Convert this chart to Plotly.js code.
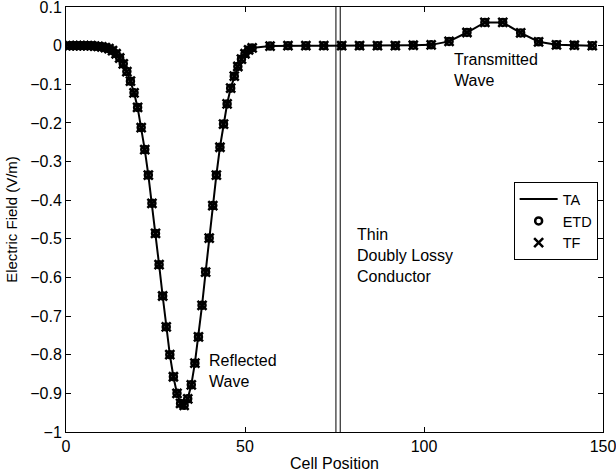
<!DOCTYPE html>
<html>
<head>
<meta charset="utf-8">
<script src="https://cdn.plot.ly/plotly-3.0.1.min.js"></script>
<style>html,body{margin:0;padding:0;background:#fff}#chart{width:616px;height:474px}</style>
</head>
<body>
<div id="chart"></div>
<script>
// Cell positions of the sampled field values
const cells = [1,2,3,4,5,6,7,8,9,10,11,12,13,14,15,16,17,18,19,20,21,22,23,24,25,26,27,28,29,30,
  31,32,33,34,35,36,37,38,39,40,41,42,43,44,45,46,47,48,49,50,51,52,
  57,62,67,72,77,82,87,92,97,102,107,112,117,122,127,132,137,142,147];
// Electric field (V/m) (TA, ETD and TF coincide)
const field = [0,0,0,0,0,0,0,-0.001,-0.002,-0.003,-0.005,-0.008,-0.013,-0.021,-0.032,-0.047,-0.067,-0.092,-0.122,-0.160,
  -0.212,-0.269,-0.335,-0.408,-0.486,-0.567,-0.648,-0.728,-0.800,-0.857,
  -0.900,-0.926,-0.931,-0.914,-0.878,-0.822,-0.754,-0.672,-0.586,-0.498,-0.414,-0.335,-0.263,-0.203,-0.151,-0.110,-0.079,-0.054,-0.035,-0.021,-0.011,-0.006,
  -0.001,0,0,0,0,0,0,0,0.001,0.002,0.011,0.034,0.060,0.060,0.033,0.010,0.002,0.001,0];
const taField = field;
const etdField = field;
const tfField = field;
// Thin conductor boundaries (cell position)
const conductorEdges = [75.4, 76.6];
const yTicks = [0.1,0,-0.1,-0.2,-0.3,-0.4,-0.5,-0.6,-0.7,-0.8,-0.9,-1];
const yTickText = ['0.1','0','\u22120.1','\u22120.2','\u22120.3','\u22120.4','\u22120.5','\u22120.6','\u22120.7','\u22120.8','\u22120.9','\u22121'];
const xTicks = [0,50,100,150];

const fam = 'Liberation Sans, Arial, sans-serif';
const font = {family: fam, size: 16, color: '#000'};
const yTitleFont = {family: fam, size: 15, color: '#000'};
const legendFont = {family: fam, size: 14.5, color: '#000'};

const traces = [
  {x: cells, y: taField, name: 'TA', mode: 'lines', line: {color: '#000', width: 2}},
  {x: cells, y: etdField, name: 'ETD', mode: 'markers',
   marker: {symbol: 'circle-open', size: 7, color: '#000', line: {width: 2.5, color: '#000'}}},
  {x: cells, y: tfField, name: 'TF', mode: 'markers',
   marker: {symbol: 'x-thin-open', size: 9, color: '#000', line: {width: 2.5, color: '#000'}}}
];

const shapes = conductorEdges.map(e => ({
  type: 'line', xref: 'x', yref: 'paper', x0: e, x1: e, y0: 0, y1: 1,
  line: {color: '#000', width: 1}
}));

const axisCommon = {
  showline: true, linecolor: '#000', linewidth: 1, mirror: 'ticks',
  ticks: 'inside', ticklen: 5, tickcolor: '#000', showgrid: false, zeroline: false,
  tickfont: font, ticklabeloverflow: 'allow'
};

const layout = {
  width: 616, height: 474,
  margin: {l: 66, r: 13, t: 7, b: 42},
  paper_bgcolor: '#fff', plot_bgcolor: '#fff',
  font: font,
  showlegend: true,
  legend: {x: 0.99, y: 0.588, xanchor: 'right', yanchor: 'top',
    bordercolor: '#000', borderwidth: 1, bgcolor: '#fff', font: legendFont,
    tracegroupgap: 0, itemwidth: 38},
  xaxis: Object.assign({}, axisCommon, {range: [0, 150], tickvals: xTicks,
    title: {text: 'Cell Position', font: font, standoff: 3}}),
  yaxis: Object.assign({}, axisCommon, {range: [-1, 0.1], tickvals: yTicks, ticktext: yTickText,
    title: {text: 'Electric Field (V/m)', font: yTitleFont, standoff: 8}}),
  shapes: shapes,
  annotations: [
    {x: 39.3, y: -0.841, xref: 'x', yref: 'y', xanchor: 'left', yanchor: 'middle', align: 'left',
     text: 'Reflected<br>Wave', showarrow: false, font: font},
    {x: 107.8, y: -0.062, xref: 'x', yref: 'y', xanchor: 'left', yanchor: 'middle', align: 'left',
     text: 'Transmitted<br>Wave', showarrow: false, font: font},
    {x: 80.8, y: -0.542, xref: 'x', yref: 'y', xanchor: 'left', yanchor: 'middle', align: 'left',
     text: 'Thin<br>Doubly Lossy<br>Conductor', showarrow: false, font: font}
  ]
};

Plotly.newPlot('chart', traces, layout, {displayModeBar: false, staticPlot: true});
</script>
</body>
</html>
